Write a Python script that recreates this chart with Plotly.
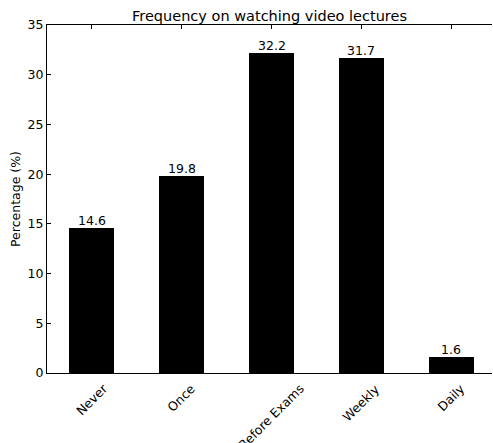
import plotly.graph_objects as go

categories = ["Never", "Once", "Before Exams", "Weekly", "Daily"]
percentages = [14.6, 19.8, 32.2, 31.7, 1.6]
y_ticks = [0, 5, 10, 15, 20, 25, 30, 35]

FONT = "DejaVu Sans"
positions = list(range(len(categories)))

fig = go.Figure(
    go.Bar(
        x=positions,
        y=percentages,
        width=0.5,
        marker=dict(color="black", line=dict(width=0)),
    )
)

# Value labels sitting on top of each bar
for i, v in zip(positions, percentages):
    fig.add_annotation(
        x=i, y=v, xref="x", yref="y",
        text=f"{v:.1f}", showarrow=False,
        xanchor="center", yanchor="bottom", yshift=-2,
        font=dict(family=FONT, size=12.5, color="black"),
    )

# Rotated category labels centred under each bar
for i, name in zip(positions, categories):
    fig.add_annotation(
        x=i, y=0, xref="x", yref="y",
        text=name, textangle=-45, showarrow=False,
        xanchor="center", yanchor="top", yshift=-5,
        font=dict(family=FONT, size=12.5, color="black"),
    )

fig.update_layout(
    width=493, height=443,
    margin=dict(l=47, r=1, t=25, b=70),
    paper_bgcolor="white", plot_bgcolor="white",
    showlegend=False,
    bargap=0,
    title=dict(
        text="Frequency on watching video lectures",
        x=(47 + 492) / 2 / 493, xanchor="center",
        y=1 - 16 / 443, yanchor="middle",
        font=dict(family=FONT, size=14.5, color="black"),
    ),
)

fig.update_xaxes(
    range=[-0.5, 4.455],
    tickvals=positions,
    showticklabels=False,
    ticks="inside", ticklen=4, tickcolor="black", tickwidth=1,
    showline=True, linecolor="black", linewidth=1, mirror="ticks",
    showgrid=False, zeroline=False,
)

fig.update_yaxes(
    range=[0, 35],
    tickvals=y_ticks,
    ticks="inside", ticklen=4, tickcolor="black", tickwidth=1,
    tickfont=dict(family=FONT, size=12.5, color="black"),
    showline=True, linecolor="black", linewidth=1,
    showgrid=False, zeroline=False,
    title=dict(text="Percentage (%)", font=dict(family=FONT, size=12.5, color="black"), standoff=4),
)

fig.write_html("out.html")
